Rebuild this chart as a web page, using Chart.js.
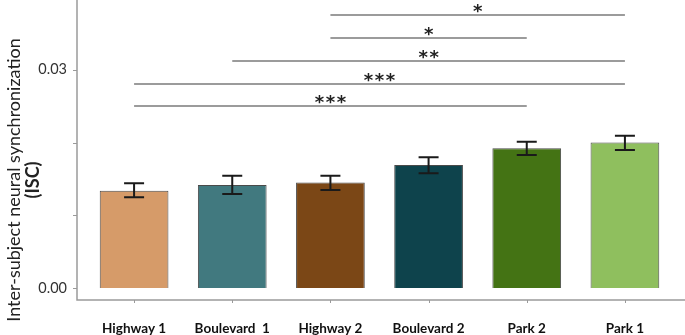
<!DOCTYPE html>
<html>
<head>
<meta charset="utf-8">
<script src="https://cdn.jsdelivr.net/npm/chart.js@4.4.1/dist/chart.umd.min.js"></script>
<style>
  html, body { margin: 0; padding: 0; background: #fff; }
  #isc-chart { display: block; }
</style>
</head>
<body>
<canvas id="isc-chart" width="685" height="335"></canvas>
<script>
// Data
const categories = ["Highway 1", "Boulevard  1", "Highway 2", "Boulevard 2", "Park 2", "Park 1"];
const iscMean = [0.01338, 0.01417, 0.01449, 0.01692, 0.01922, 0.01999];
const errLow = [0.01248, 0.01293, 0.01348, 0.01578, 0.01829, 0.01898];
const errHigh = [0.01440, 0.01545, 0.01545, 0.01798, 0.02012, 0.02095];
const barColors = ["#D69B69", "#41797F", "#7B4716", "#0E434C", "#447314", "#8FBF5E"];
const yTickMarks = [0, 0.01, 0.02, 0.03];
const yTickLabels = [0, 0.03];

// Significance brackets (category index from / to, stars, height)
const sigFrom = [2, 2, 1, 0, 0];
const sigTo = [5, 4, 5, 5, 4];
const sigStars = ["*", "*", "**", "***", "***"];
const sigLevel = [0.03755, 0.03439, 0.03122, 0.02806, 0.02503];

const AXIS_GAP = 8; // y axis line sits a bit left of the plot area

// Draws axes, error bars, brackets and the two-line y title
const decorations = {
    id: "decorations",
    afterDatasetsDraw(chart) {
        const ctx = chart.ctx;
        const x = chart.scales.x;
        const y = chart.scales.y;
        const area = chart.chartArea;
        const axisX = area.left - AXIS_GAP;

        ctx.save();

        // axis lines
        ctx.strokeStyle = "#9a9a9a";
        ctx.lineWidth = 1.5;
        ctx.beginPath();
        ctx.moveTo(axisX, 0);
        ctx.lineTo(axisX, area.bottom);
        ctx.lineTo(chart.width, area.bottom);
        ctx.stroke();

        // tick marks
        ctx.lineWidth = 1;
        ctx.beginPath();
        yTickMarks.forEach((v) => {
            const py = Math.round(y.getPixelForValue(v)) + 0.5;
            ctx.moveTo(axisX - 4, py);
            ctx.lineTo(axisX, py);
        });
        categories.forEach((c, i) => {
            const px = Math.round(x.getPixelForValue(i)) + 0.5;
            ctx.moveTo(px, area.bottom);
            ctx.lineTo(px, area.bottom + 3);
        });
        ctx.stroke();

        // error bars
        ctx.strokeStyle = "#1a1a1a";
        ctx.lineWidth = 2;
        categories.forEach((c, i) => {
            const px = x.getPixelForValue(i);
            const top = y.getPixelForValue(errHigh[i]);
            const bot = y.getPixelForValue(errLow[i]);
            ctx.beginPath();
            ctx.moveTo(px, top);
            ctx.lineTo(px, bot);
            ctx.moveTo(px - 10, top);
            ctx.lineTo(px + 10, top);
            ctx.moveTo(px - 10, bot);
            ctx.lineTo(px + 10, bot);
            ctx.stroke();
        });

        // significance brackets
        ctx.strokeStyle = "#7a7a7a";
        ctx.lineWidth = 1.5;
        ctx.fillStyle = "#222";
        ctx.font = "bold 18px 'DejaVu Sans', sans-serif";
        ctx.textAlign = "center";
        ctx.textBaseline = "alphabetic";
        sigFrom.forEach((from, k) => {
            const x1 = x.getPixelForValue(from);
            const x2 = x.getPixelForValue(sigTo[k]);
            const py = y.getPixelForValue(sigLevel[k]);
            ctx.beginPath();
            ctx.moveTo(x1, py);
            ctx.lineTo(x2, py);
            ctx.stroke();
            const n = sigStars[k].length;
            const mid = (x1 + x2) / 2;
            for (let s = 0; s < n; s++) {
                ctx.fillText("*", mid + (s - (n - 1) / 2) * 11, py + 2.5);
            }
        });

        // y axis title
        ctx.fillStyle = "#222";
        ctx.textBaseline = "middle";
        ctx.translate(14, 180);
        ctx.rotate(-Math.PI / 2);
        ctx.font = "18px Lato, sans-serif";
        ctx.fillText("Inter-subject neural synchronization", 0, 0);
        ctx.font = "bold 18px Lato, sans-serif";
        ctx.fillText("(ISC)", 0, 19);

        ctx.restore();
    }
};

const ctx = document.getElementById("isc-chart").getContext("2d");
new Chart(ctx, {
    type: "bar",
    data: {
        labels: categories,
        datasets: [
            {
                data: iscMean,
                backgroundColor: barColors,
                borderColor: "#4a4a4a",
                borderWidth: 1,
                barPercentage: 0.7,
                categoryPercentage: 1.0
            }
        ]
    },
    options: {
        responsive: false,
        devicePixelRatio: 1,
        animation: false,
        layout: { padding: { top: 0, right: 11, bottom: 0, left: 0 } },
        plugins: {
            legend: { display: false },
            tooltip: { enabled: false }
        },
        scales: {
            x: {
                grid: { display: false },
                border: { display: false },
                ticks: {
                    padding: 13,
                    color: "#111",
                    font: { family: "Lato, sans-serif", size: 13.5, weight: "bold" },
                    maxRotation: 0,
                    autoSkip: false
                },
                afterFit(scale) {
                    scale.height = 35;
                    scale.paddingLeft = 0;
                    scale.paddingRight = 0;
                }
            },
            y: {
                min: -0.00165,
                max: 0.0396,
                grid: { display: false },
                border: { display: false },
                ticks: {
                    padding: 10,
                    color: "#333",
                    font: { family: "Lato, sans-serif", size: 14.5 },
                    callback: (v) => v.toFixed(2)
                },
                afterBuildTicks(scale) {
                    scale.ticks = yTickLabels.map((v) => ({ value: v }));
                },
                afterFit(scale) {
                    scale.width = 85;
                    scale.paddingTop = 0;
                    scale.paddingBottom = 0;
                }
            }
        }
    },
    plugins: [decorations]
});
</script>
</body>
</html>
